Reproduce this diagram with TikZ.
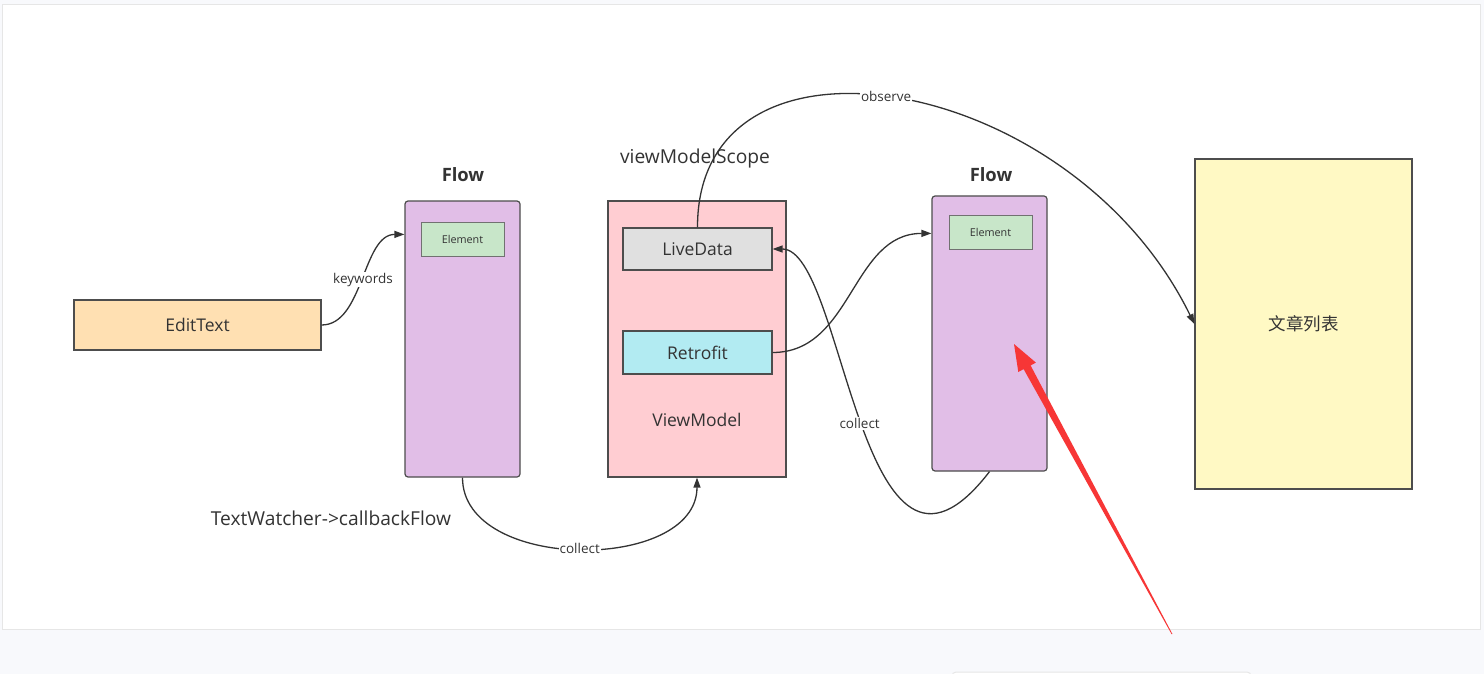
\documentclass[tikz,border=0pt]{standalone}
\usepackage{fontspec}
\setmainfont{Open Sans}
\newfontfamily\cjk{Noto Sans CJK SC}
\usetikzlibrary{arrows.meta,calc}
\definecolor{txt}{HTML}{333333}
\definecolor{edge}{HTML}{333333}
\definecolor{boxline}{HTML}{4D4D4D}
\definecolor{peach}{HTML}{FFE0B2}
\definecolor{lilac}{HTML}{E1BEE7}
\definecolor{mint}{HTML}{C8E6C9}
\definecolor{pinkc}{HTML}{FFCDD2}
\definecolor{greyc}{HTML}{E0E0E0}
\definecolor{cyanc}{HTML}{B2EBF2}
\definecolor{lemon}{HTML}{FFF9C4}
\definecolor{pagebg}{HTML}{F8F9FC}
\definecolor{panelline}{HTML}{E6E6E6}
\definecolor{redarrow}{HTML}{F73636}
\begin{document}
\begin{tikzpicture}[x=1pt,y=-1pt,
  box/.style={draw=boxline, line width=1.2pt, inner sep=0pt, text=txt,
    font=\fontsize{17.5}{21}\selectfont},
  elembox/.style={draw=boxline!80, line width=0.8pt, fill=mint, inner sep=0pt,
    minimum width=83pt, minimum height=34pt, text=txt, font=\fontsize{10.8}{13}\selectfont},
  title/.style={text=txt, inner sep=0pt, font=\fontsize{19.2}{23}\selectfont},
  conn/.style={draw=edge, line width=1.3pt, -{Triangle[length=10pt,width=7pt]}},
  lbl/.style={fill=white, inner sep=1pt, text=txt, font=\fontsize{13.5}{16}\selectfont}]
\useasboundingbox (0,0) rectangle (1484,674);
\fill[pagebg] (0,0) rectangle (1484,674);
\fill[white, draw=panelline, line width=1pt] (2,5) rectangle (1480,629);
\begin{scope}
\clip (0,0) rectangle (1484,674);
\fill[white, draw=panelline, line width=1pt, rounded corners=4pt] (952,672) rectangle (1251,690);
\end{scope}

% nodes
\node[box, fill=peach, minimum width=247pt, minimum height=50pt] (edit) at (197.5,325) {EditText};
\node[box, fill=lilac, rounded corners=3pt, minimum width=115pt, minimum height=276pt] (flowA) at (462.5,339) {};
\node[elembox] (elA) at (462.5,239) {Element};
\node[title, font=\fontsize{18.4}{22}\selectfont\bfseries] (flowAt) at (463,175) {Flow};

\node[box, fill=pinkc, minimum width=178pt, minimum height=276pt] (vm) at (697,339) {};
\node[title, font=\fontsize{17.5}{21}\selectfont] (vmt) at (697,420) {ViewModel};
\node[box, fill=greyc, minimum width=149pt, minimum height=42pt] (live) at (697.5,249) {LiveData};
\node[box, fill=cyanc, minimum width=149pt, minimum height=43pt] (retro) at (697.5,352.5) {Retrofit};
\node[title] (scope) at (695,159) {viewModelScope};

\node[box, fill=lilac, rounded corners=3pt, minimum width=115pt, minimum height=275pt] (flowB) at (989.5,333.5) {};
\node[elembox] (elB) at (990.5,232) {Element};
\node[title, font=\fontsize{18.4}{22}\selectfont\bfseries] (flowBt) at (991,175) {Flow};

\node[box, fill=lemon, minimum width=217pt, minimum height=330pt, font=\fontsize{17.5}{21}\selectfont\cjk] (list) at (1303.5,324) {文章列表};

\node[title] (tw) at (331,518) {TextWatcher->callbackFlow};

% connectors
\draw[conn] (edit.east) .. controls +(42,0) and +(-42,0) .. ($(flowA.north west)+(0,34)$)
  node[lbl, pos=0.5] {keywords};
\draw[conn] (flowA.south) .. controls +(0,95) and +(0,95) .. (vm.south)
  node[lbl, pos=0.5] {collect};
\draw[conn] (live.north) .. controls (697,10) and (1070,70) .. (list.west)
  node[lbl, pos=0.48] {observe};
\draw[conn] (retro.east) .. controls +(80,0) and +(-80,0) .. ($(flowB.north west)+(0,38)$);
\draw[conn] (flowB.south) .. controls (860,640) and (845,249) .. (live.east)
  node[lbl, pos=0.5] {collect};

% red annotation arrow
\fill[redarrow] (1172.4,634) -- (1030.6,365.5) -- (1035.9,362.6) -- (1014,344)
  -- (1018.3,372.0) -- (1023.6,369.1) -- (1171.6,634.2) -- cycle;
\end{tikzpicture}
\end{document}
